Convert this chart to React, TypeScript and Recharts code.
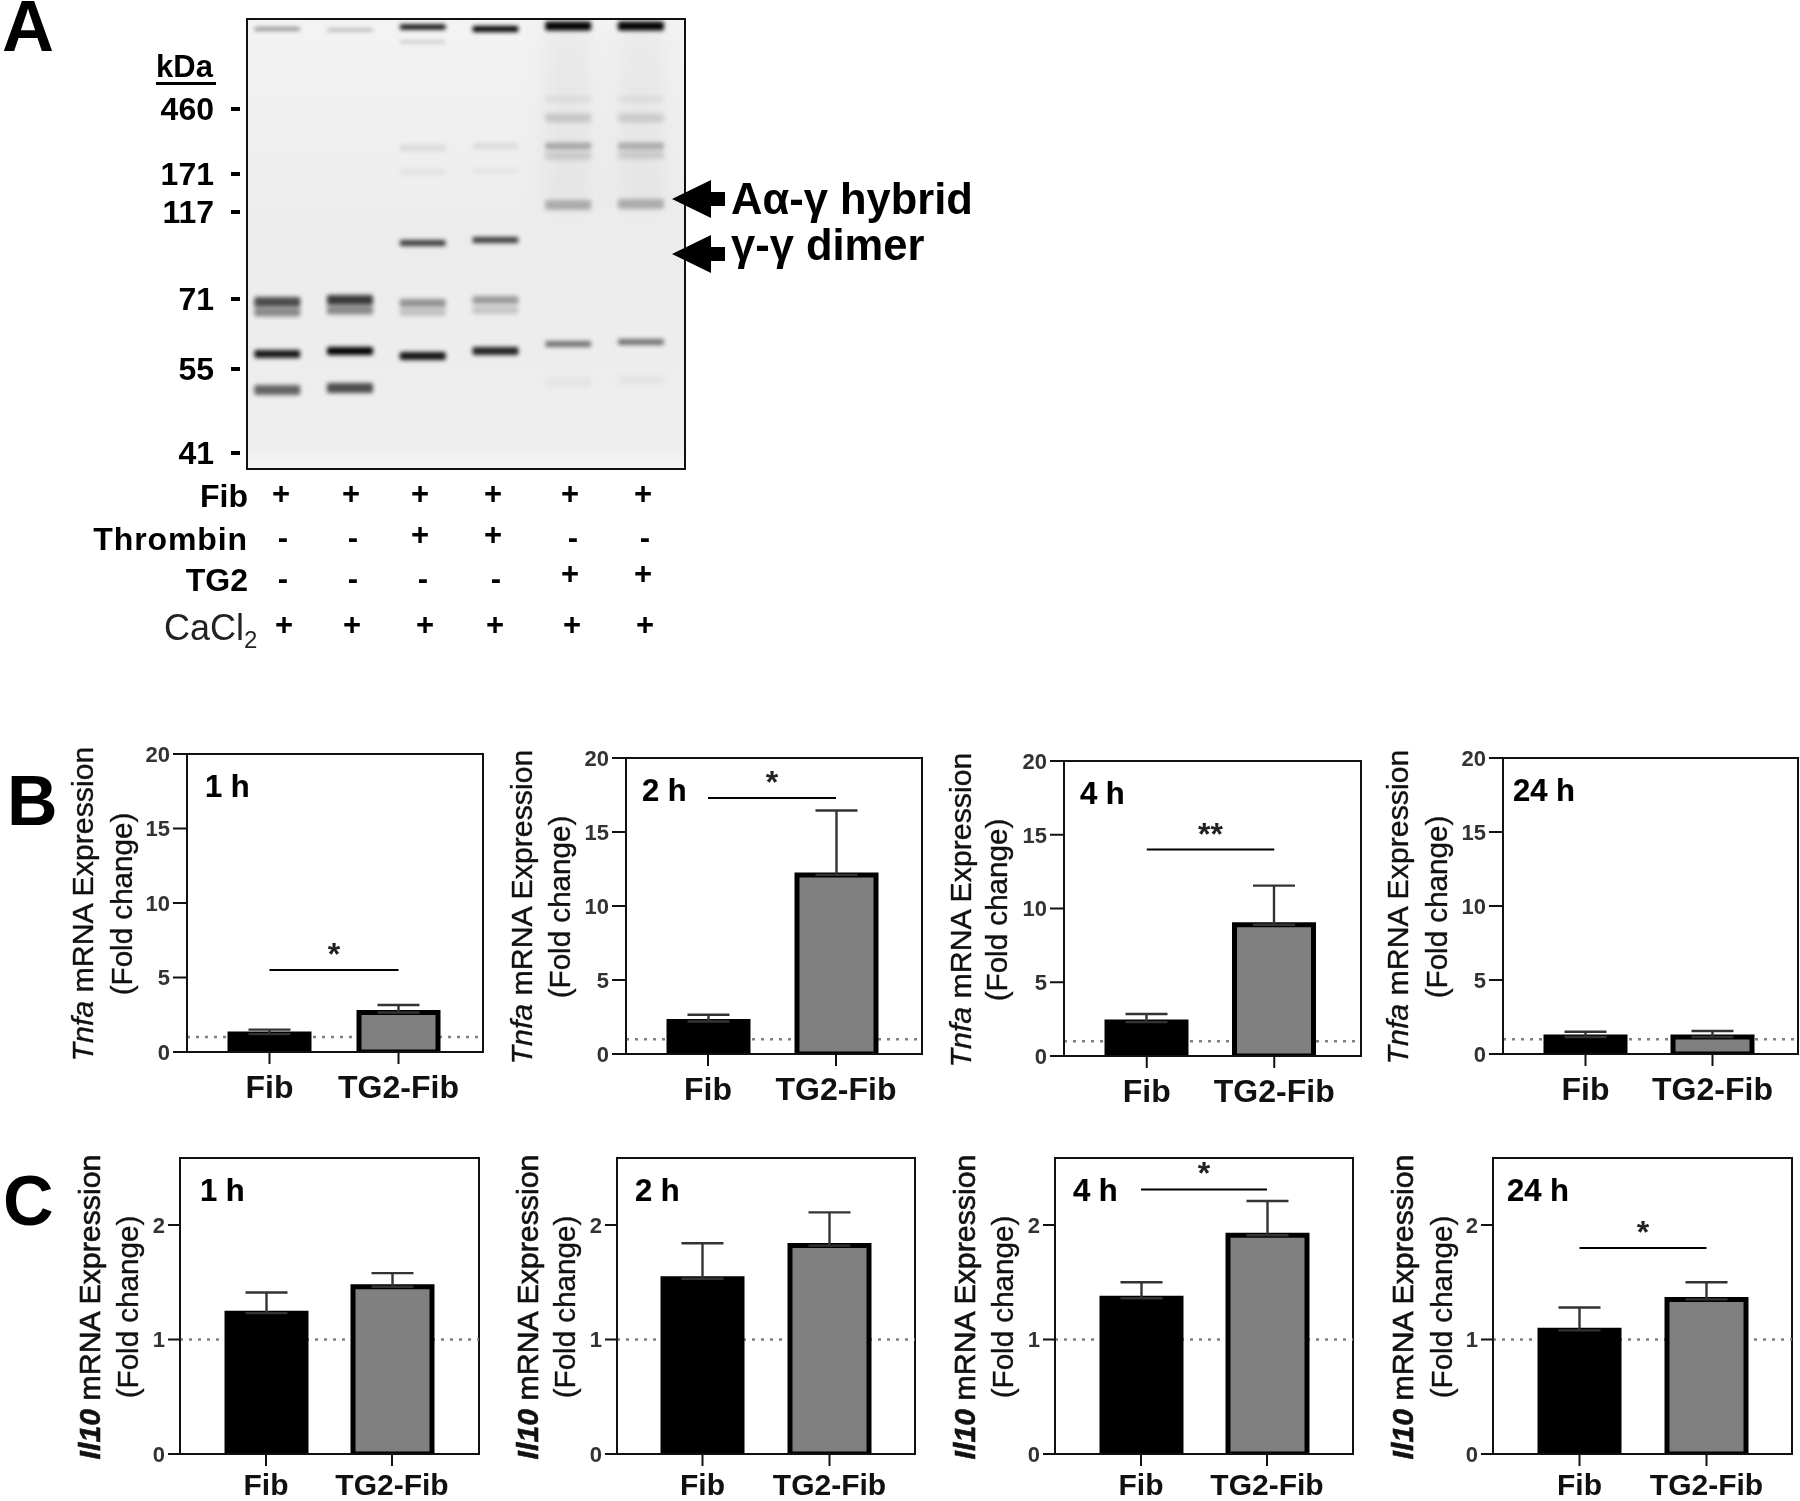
import {
  Bar,
  BarChart,
  Cell,
  ErrorBar,
  ReferenceLine,
  Scatter,
  ScatterChart,
  XAxis,
  YAxis,
} from "recharts";

const FONT = "'Liberation Sans', Arial, sans-serif";

// Panel A: gel lanes, band = migration (px from the well), density 0-1, spread
const lane1Bands = [
  { pos: 11, density: 0.5, spread: 3 },
  { pos: 284, density: 0.68, spread: 10 },
  { pos: 294, density: 0.42, spread: 9 },
  { pos: 336, density: 0.9, spread: 8 },
  { pos: 372, density: 0.58, spread: 10 },
];
const lane2Bands = [
  { pos: 12, density: 0.28, spread: 3 },
  { pos: 282, density: 0.76, spread: 10 },
  { pos: 292, density: 0.42, spread: 9 },
  { pos: 333, density: 1, spread: 8 },
  { pos: 370, density: 0.68, spread: 10 },
];
const lane3Bands = [
  { pos: 9, density: 1, spread: 5 },
  { pos: 24, density: 0.25, spread: 2 },
  { pos: 130, density: 0.08, spread: 7 },
  { pos: 154, density: 0.04, spread: 7 },
  { pos: 225, density: 0.75, spread: 6 },
  { pos: 285, density: 0.38, spread: 8 },
  { pos: 294, density: 0.18, spread: 8 },
  { pos: 338, density: 0.92, spread: 8 },
];
const lane4Bands = [
  { pos: 11, density: 1, spread: 6 },
  { pos: 128, density: 0.08, spread: 6 },
  { pos: 153, density: 0.04, spread: 6 },
  { pos: 222, density: 0.75, spread: 6 },
  { pos: 282, density: 0.34, spread: 8 },
  { pos: 292, density: 0.16, spread: 8 },
  { pos: 333, density: 0.86, spread: 8 },
];
const lane5Bands = [
  { pos: 100, density: 0.04, spread: 180 },
  { pos: 8, density: 1, spread: 9 },
  { pos: 81, density: 0.05, spread: 7 },
  { pos: 100, density: 0.14, spread: 9 },
  { pos: 128, density: 0.28, spread: 7 },
  { pos: 138, density: 0.12, spread: 8 },
  { pos: 187, density: 0.26, spread: 10 },
  { pos: 326, density: 0.52, spread: 6 },
  { pos: 364, density: 0.03, spread: 10 },
];
const lane6Bands = [
  { pos: 100, density: 0.04, spread: 180 },
  { pos: 8, density: 1, spread: 9 },
  { pos: 81, density: 0.05, spread: 7 },
  { pos: 100, density: 0.12, spread: 9 },
  { pos: 128, density: 0.26, spread: 7 },
  { pos: 137, density: 0.12, spread: 8 },
  { pos: 186, density: 0.26, spread: 10 },
  { pos: 324, density: 0.52, spread: 6 },
  { pos: 362, density: 0.03, spread: 10 },
];
const gelLanes = [lane1Bands, lane2Bands, lane3Bands, lane4Bands, lane5Bands, lane6Bands];

const markerLabels = ["460", "171", "117", "71", "55", "41"];
const markerPos = [91, 156, 194, 281, 351, 435];

const fibMarks = ["+", "+", "+", "+", "+", "+"];
const thrombinMarks = ["-", "-", "+", "+", "-", "-"];
const tg2Marks = ["-", "-", "-", "-", "+", "+"];
const cacl2Marks = ["+", "+", "+", "+", "+", "+"];

// Panels B and C
const categories = ["Fib", "TG2-Fib"];
const hours = ["1 h", "2 h", "4 h", "24 h"];

const tnfaFib = [1.2, 2.2, 2.3, 1.15];
const tnfaFibTop = [1.5, 2.65, 2.85, 1.5];
const tnfaTg2 = [2.65, 12.1, 8.9, 1.15];
const tnfaTg2Top = [3.15, 16.45, 11.55, 1.55];
const tnfaSig = [5.5, 17.3, 14.0, null];
const tnfaStars = ["*", "*", "**", ""];
const tnfaTicks = [0, 5, 10, 15, 20];

const il10Fib = [1.23, 1.53, 1.36, 1.08];
const il10FibTop = [1.41, 1.84, 1.5, 1.28];
const il10Tg2 = [1.46, 1.82, 1.91, 1.35];
const il10Tg2Top = [1.58, 2.11, 2.21, 1.5];
const il10Sig = [null, null, 2.31, 1.8];
const il10Stars = ["", "", "*", "*"];
const il10Ticks = [0, 1, 2];

function Txt({ x, y, size, bold, align = "center", rotate, stroke, color = "#000", lh = 1, spacing, children }: any) {
  const tx = align === "center" ? "-50%" : align === "right" ? "-100%" : "0";
  return (
    <div
      style={{
        position: "absolute",
        left: x,
        top: y,
        whiteSpace: "nowrap",
        fontFamily: FONT,
        fontSize: size,
        fontWeight: bold ? 700 : 400,
        lineHeight: lh,
        letterSpacing: spacing,
        color,
        WebkitTextStroke: stroke ? `${stroke}px ${color}` : undefined,
        transform: `translate(${tx}, -50%)${rotate ? ` rotate(${rotate}deg)` : ""}`,
      }}
    >
      {children}
    </div>
  );
}

function GelBand(props: any) {
  const { cx, cy, payload } = props;
  if (cx == null || cy == null) return null;
  return (
    <rect
      x={cx - 23}
      y={cy - payload.spread / 2}
      width={46}
      height={payload.spread}
      rx={2}
      fill="#000"
      fillOpacity={payload.density}
      style={{ filter: `blur(${Math.max(2, payload.spread / 14)}px)` }}
    />
  );
}

function MarkerTick(props: any) {
  const { x, y, index } = props;
  return (
    <g>
      <rect x={x - 7} y={y - 2} width={9} height={4} fill="#000" />
      <text x={x - 24} y={y + 11} textAnchor="end" fontSize={32} fontWeight={700} fontFamily={FONT} fill="#000">
        {markerLabels[index]}
      </text>
    </g>
  );
}

function GelPanel() {
  return (
    <>
      <div
        style={{
          position: "absolute",
          left: 246,
          top: 18,
          width: 440,
          height: 452,
          border: "2px solid #111",
          boxSizing: "border-box",
          background: "linear-gradient(#f3f3f3, #ececec 50%, #eeeeee 96%, #f8f8f8)",
        }}
      />
      <div style={{ position: "absolute", left: 0, top: 18 }}>
        <ScatterChart width={690} height={452} margin={{ top: 0, right: 4, bottom: 0, left: 0 }}>
          <XAxis type="number" dataKey="lane" domain={[0.57, 6.62]} hide />
          <YAxis
            type="number"
            dataKey="pos"
            reversed
            width={246}
            domain={[0, 452]}
            ticks={markerPos}
            interval={0}
            axisLine={false}
            tickLine={false}
            tick={<MarkerTick />}
          />
          {gelLanes.map((bands, i) => (
            <Scatter
              key={i}
              data={bands.map((b) => ({ ...b, lane: i + 1 }))}
              shape={<GelBand />}
              isAnimationActive={false}
            />
          ))}
        </ScatterChart>
      </div>
    </>
  );
}

const arrowYs = [199, 254];

function GelAnnotations() {
  const rows = [
    { name: "Fib", y: 494, marks: fibMarks, cols: [281, 351, 420, 493, 570, 643], lift: 1 },
    { name: "Thrombin", y: 537, marks: thrombinMarks, cols: [283, 353, 420, 493, 573, 645], lift: 3, spacing: 0.9 },
    { name: "TG2", y: 578, marks: tg2Marks, cols: [283, 353, 423, 496, 570, 643], lift: 5 },
  ];
  return (
    <>
      <Txt x={2} y={26} size={72} bold align="left" lh={0.7}>A</Txt>
      <Txt x={156} y={66} size={31} bold align="left">kDa</Txt>
      <div style={{ position: "absolute", left: 156, top: 82, width: 60, height: 3, background: "#000" }} />
      {rows.map((r) => (
        <div key={r.name}>
          <Txt x={248} y={r.y + 2} size={32} bold align="right" spacing={r.spacing}>{r.name}</Txt>
          {r.marks.map((m, i) => (
            <Txt key={i} x={r.cols[i]} y={m === "+" ? r.y - r.lift : r.y} size={31} bold>{m}</Txt>
          ))}
        </div>
      ))}
      <Txt x={164} y={628} size={36} align="left" color="#222">
        CaCl<sub style={{ fontSize: 24, lineHeight: 0 }}>2</sub>
      </Txt>
      {cacl2Marks.map((m, i) => (
        <Txt key={i} x={[284, 352, 425, 495, 572, 645][i]} y={624} size={31} bold>{m}</Txt>
      ))}
      <svg style={{ position: "absolute", left: 660, top: 170 }} width={80} height={110}>
        {arrowYs.map((y) => (
          <polygon
            key={y}
            fill="#000"
            points={`12,${y - 170} 51,${y - 189} 51,${y - 177} 65,${y - 177} 65,${y - 163} 51,${y - 163} 51,${y - 151}`}
          />
        ))}
      </svg>
      <Txt x={731} y={200} size={43.5} bold align="left">Aα-γ hybrid</Txt>
      <Txt x={731} y={246} size={43.5} bold align="left">γ-γ dimer</Txt>
    </>
  );
}

interface PanelProps {
  left: number;
  top: number;
  width: number;
  height: number;
  hourX: number;
  hour: string;
  gene: string;
  fib: number;
  fibTop: number;
  tg2: number;
  tg2Top: number;
  sig: number | null;
  star: string;
  yMax: number;
  ticks: number[];
  tickSize: number;
  padding: { left: number; right: number };
  titleOffsets: number[];
  titleBold?: boolean;
  catSize: number;
  catMargin: number;
  catHeight: number;
}

const AXIS_W = 60;
const TOP_GAP = 14;

function ExpressionPanel(p: PanelProps) {
  const data = [
    { name: categories[0], mean: p.fib, err: [0, p.fibTop - p.fib] },
    { name: categories[1], mean: p.tg2, err: [0, p.tg2Top - p.tg2] },
  ];
  const midY = p.top + p.height / 2 + 1;
  return (
    <>
      <Txt x={p.left + p.titleOffsets[0]} y={midY} size={30.3} rotate={-90} stroke={p.titleBold ? 0.6 : 0.35} color="#111">
        <i style={{ fontWeight: p.titleBold ? 700 : 400 }}>{p.gene}</i> mRNA Expression
      </Txt>
      <Txt x={p.left + p.titleOffsets[1]} y={midY} size={29.6} rotate={-90} stroke={0.35} color="#111">
        (Fold change)
      </Txt>
      <div
        style={{
          position: "absolute",
          left: p.left - 1,
          top: p.top - 1,
          width: p.width + 2,
          height: p.height + 2,
          border: "2px solid #111",
          boxSizing: "border-box",
        }}
      />
      <div style={{ position: "absolute", left: p.left - AXIS_W, top: p.top - TOP_GAP }}>
        <BarChart
          width={p.width + AXIS_W + 4}
          height={p.height + TOP_GAP + p.catHeight}
          data={data}
          margin={{ top: TOP_GAP, right: 4, bottom: 0, left: 0 }}
          barSize={79}
        >
          <XAxis
            dataKey="name"
            height={p.catHeight}
            interval={0}
            padding={p.padding}
            stroke="#111"
            strokeWidth={2}
            tickSize={12}
            tickMargin={p.catMargin}
            tick={{ fontSize: p.catSize, fontFamily: FONT, fontWeight: 700, fill: "#111" }}
          />
          <YAxis
            width={AXIS_W}
            domain={[0, p.yMax]}
            ticks={p.ticks}
            allowDataOverflow
            interval={0}
            stroke="#111"
            strokeWidth={2}
            tickSize={p.tickSize}
            tickMargin={3}
            tick={{ fontSize: 22, fontFamily: FONT, fontWeight: 700, fill: "#333" }}
          />
          <ReferenceLine y={1} stroke="#808080" strokeWidth={2.5} strokeDasharray="3 6" zIndex={100} />
          <Bar dataKey="mean" stroke="#000" strokeWidth={5} isAnimationActive={false}>
            <Cell fill="#000" />
            <Cell fill="#808080" />
            <ErrorBar dataKey="err" direction="y" width={21} stroke="#333" strokeWidth={2.4} isAnimationActive={false} />
          </Bar>
          {p.sig != null && (
            <ReferenceLine
              stroke="#000"
              strokeWidth={2}
              segment={[
                { x: categories[0], y: p.sig },
                { x: categories[1], y: p.sig },
              ]}
              label={{ value: p.star, position: "top", fontSize: 32, fontFamily: FONT, fontWeight: 700, fill: "#222", dy: 0 }}
            />
          )}
        </BarChart>
      </div>
      <Txt x={p.left + p.hourX} y={p.top + 32} size={31} bold stroke={0.2} align="left">{p.hour}</Txt>
    </>
  );
}

const tnfaBoxes = [
  { left: 187, top: 754, width: 296, height: 298, hourX: 18, padding: { left: 18, right: 20 }, titleOffsets: [-104, -65] },
  { left: 626, top: 758, width: 296, height: 296, hourX: 16, padding: { left: 18, right: 22 }, titleOffsets: [-104, -66] },
  { left: 1064, top: 761, width: 297, height: 295, hourX: 16, padding: { left: 19, right: 23 }, titleOffsets: [-103, -67] },
  { left: 1503, top: 758, width: 295, height: 296, hourX: 10, padding: { left: 19, right: 22 }, titleOffsets: [-105, -66] },
];
const il10Boxes = [
  { left: 180, top: 1158, width: 299, height: 296, hourX: 20, padding: { left: 23, right: 24 }, titleOffsets: [-90, -52] },
  { left: 617, top: 1158, width: 298, height: 296, hourX: 18, padding: { left: 22, right: 22 }, titleOffsets: [-89, -52] },
  { left: 1055, top: 1158, width: 298, height: 296, hourX: 18, padding: { left: 23, right: 23 }, titleOffsets: [-90, -52] },
  { left: 1493, top: 1158, width: 299, height: 296, hourX: 14, padding: { left: 23, right: 22 }, titleOffsets: [-90, -51] },
];

export default function App() {
  return (
    <div style={{ position: "absolute", left: 0, top: 0, width: 1800, height: 1501, background: "#fff", overflow: "hidden", filter: "blur(0.5px)" }}>
      <GelPanel />
      <GelAnnotations />
      <Txt x={7} y={801} size={70} bold align="left">B</Txt>
      <Txt x={3} y={1201} size={70} bold align="left">C</Txt>
      {hours.map((hour, i) => (
        <ExpressionPanel
          key={"t" + hour}
          {...tnfaBoxes[i]}
          hour={hour}
          gene="Tnfa"
          fib={tnfaFib[i]}
          fibTop={tnfaFibTop[i]}
          tg2={tnfaTg2[i]}
          tg2Top={tnfaTg2Top[i]}
          sig={tnfaSig[i]}
          star={tnfaStars[i]}
          yMax={20}
          ticks={tnfaTicks}
          tickSize={14}
          catSize={32}
          catMargin={11}
          catHeight={62}
        />
      ))}
      {hours.map((hour, i) => (
        <ExpressionPanel
          key={"i" + hour}
          {...il10Boxes[i]}
          hour={hour}
          gene="Il10"
          fib={il10Fib[i]}
          fibTop={il10FibTop[i]}
          tg2={il10Tg2[i]}
          tg2Top={il10Tg2Top[i]}
          sig={il10Sig[i]}
          star={il10Stars[i]}
          yMax={2.585}
          ticks={il10Ticks}
          tickSize={12}
          catSize={30}
          catMargin={8}
          catHeight={47}
          titleBold
        />
      ))}
    </div>
  );
}
